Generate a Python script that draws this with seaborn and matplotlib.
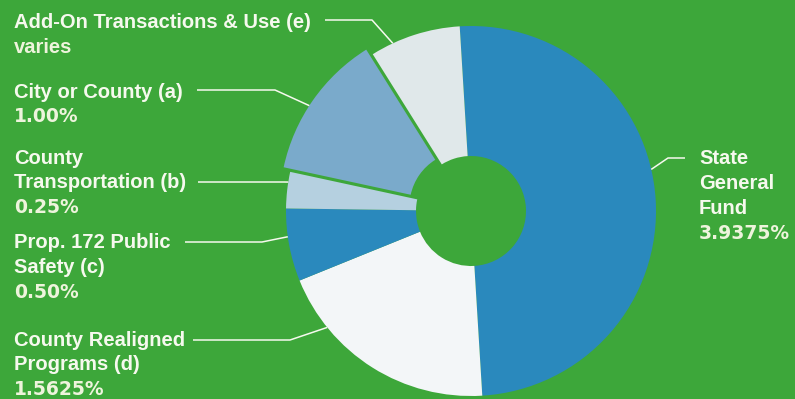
import numpy as np
import matplotlib
matplotlib.use('Agg')
import matplotlib.pyplot as plt
import seaborn as sns

# sales tax rate components (percent); add-on "varies", slice size
categories = ['State General Fund', 'County Realigned Programs (d)', 'Prop. 172 Public Safety (c)',
              'County Transportation (b)', 'City or County (a)', 'Add-On Transactions & Use (e)']
rates = [3.9375, 1.5625, 0.50, 0.25, 1.00, 0.625]
rate_labels = ['3.9375%', '1.5625%', '0.50%', '0.25%', '1.00%', 'varies']
name_lines = [['State', 'General', 'Fund'],
              ['County Realigned', 'Programs (d)'],
              ['Prop. 172 Public', 'Safety (c)'],
              ['County', 'Transportation (b)'],
              ['City or County (a)'],
              ['Add-On Transactions & Use (e)']]

colors = ['#2a89bd', '#f3f6f8', '#2a89bd', '#b5d0e0', '#7aaacb', '#e0e8ea']
bg = '#3da73a'
txt = '#f6f9ee'
txt_val = '#eef4dc'

# layout (pixel coords, y from top)
W, H = 795, 399
cx, cy, R, hole = 471, 211, 185, 55
explode = [0, 0, 0, 0, 8, 0]
label_x = [699, 14, 14, 14, 14, 14]
label_y = [159, 340, 243, 158, 92, 23]
step = 24.7
# leader: (y of horizontal run, x start, x elbow, angle on rim)
leaders = [(158, 685, 668, 13),
           (340, 193, 290, 219),
           (242, 185, 262, 188),
           (182, 198, 284, 171),
           (90, 197, 275, 147),
           (20, 325, 372, 115)]

sns.set_theme(style='white')
plt.rcParams['font.family'] = ['Liberation Sans', 'DejaVu Sans']

fig = plt.figure(figsize=(W / 100, H / 100), dpi=100, facecolor=bg)
ax = fig.add_axes([0, 0, 1, 1])
ax.set_facecolor(bg)

wedges, _ = ax.pie(rates, colors=colors, center=(cx, H - cy), radius=R,
                   startangle=93.5, counterclock=False, explode=explode,
                   wedgeprops=dict(width=R - hole, linewidth=0))
ax.set_xlim(0, W)
ax.set_ylim(0, H)
ax.set_aspect('equal')
ax.axis('off')

for i, w in enumerate(wedges):
    names = name_lines[i]
    for k, line in enumerate(names):
        ax.text(label_x[i], H - (label_y[i] + k * step), line, color=txt,
                fontsize=14.5, fontweight='bold', ha='left', va='center')
    # value line, wider lettering like the original
    if rate_labels[i] == 'varies':
        ax.text(label_x[i], H - (label_y[i] + len(names) * step), rate_labels[i],
                color=txt_val, fontsize=14.5, fontweight='bold', ha='left', va='center')
    else:
        ax.text(label_x[i], H - (label_y[i] + len(names) * step), rate_labels[i],
                color=txt_val, fontsize=13.5, fontweight='bold', ha='left', va='center',
                family='DejaVu Sans')
    ly, x0, x1, ang = leaders[i]
    ex = w.center[0] + w.r * np.cos(np.radians(ang))
    ey = w.center[1] + w.r * np.sin(np.radians(ang))
    ax.plot([x0, x1, ex], [H - ly, H - ly, ey], color=txt, lw=1.1,
            solid_capstyle='butt')

fig.savefig('out.png', dpi=100, facecolor=bg)
